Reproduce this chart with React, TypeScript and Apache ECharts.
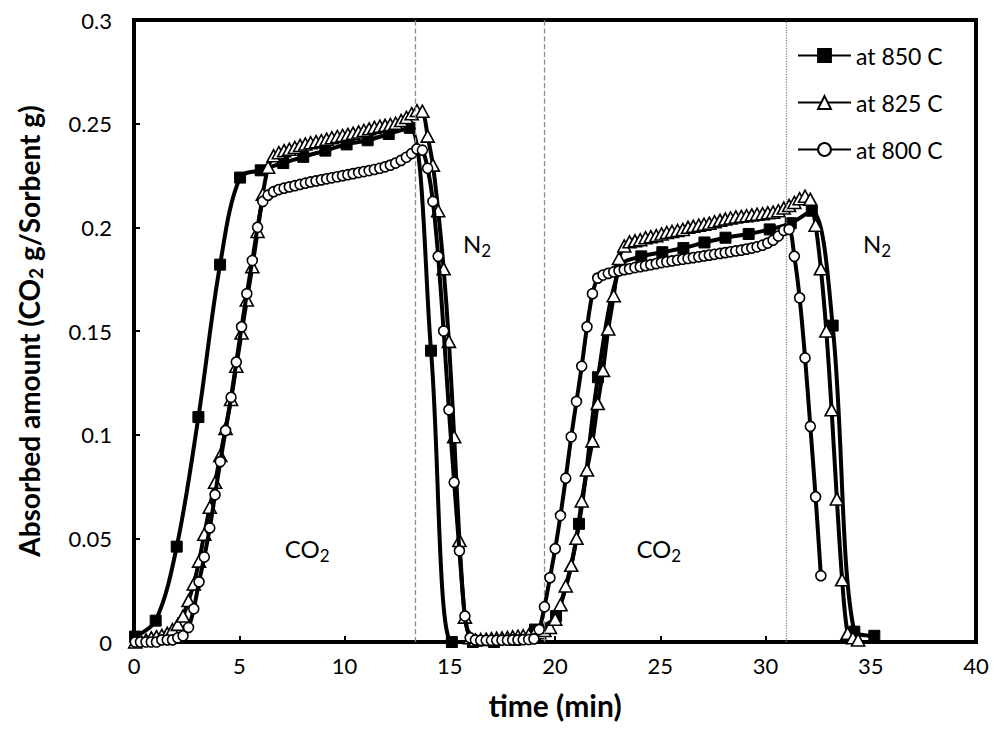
import React, { useEffect, useRef } from "react";
import * as echarts from "echarts";

// Shared sampling times (min) for the 825 C and 800 C runs
const times = [
  0.06, 0.31, 0.57, 0.82, 1.07, 1.32, 1.58, 1.83, 2.08, 2.33,
  2.59, 2.84, 3.09, 3.34, 3.6, 3.85, 4.1, 4.35, 4.61, 4.86,
  5.11, 5.36, 5.62, 5.87, 6.12, 6.37, 6.63, 6.88, 7.13, 7.38,
  7.64, 7.89, 8.14, 8.39, 8.65, 8.9, 9.15, 9.4, 9.66, 9.91,
  10.16, 10.41, 10.67, 10.92, 11.17, 11.42, 11.68, 11.93, 12.18, 12.43,
  12.69, 12.94, 13.19, 13.44, 13.7, 13.95, 14.2, 14.45, 14.71, 14.96,
  15.21, 15.46, 15.72, 15.97, 16.22, 16.47, 16.73, 16.98, 17.23, 17.48,
  17.74, 17.99, 18.24, 18.49, 18.75, 19.0, 19.25, 19.5, 19.76, 20.01,
  20.26, 20.51, 20.77, 21.02, 21.27, 21.52, 21.78, 22.03, 22.28, 22.53,
  22.79, 23.04, 23.29, 23.54, 23.8, 24.05, 24.3, 24.55, 24.81, 25.06,
  25.31, 25.56, 25.82, 26.07, 26.32, 26.57, 26.83, 27.08, 27.33, 27.58,
  27.84, 28.09, 28.34, 28.59, 28.85, 29.1, 29.35, 29.6, 29.86, 30.11,
  30.36, 30.61, 30.87, 31.12, 31.37, 31.62, 31.88, 32.13, 32.38, 32.63,
  32.89, 33.14, 33.39, 33.64, 33.9, 34.15, 34.4,
];

const at800 = [
  0.0, 0.0, 0.0, 0.0, 0.0, 0.001, 0.001, 0.001, 0.002, 0.003,
  0.007, 0.016, 0.029, 0.041, 0.055, 0.071, 0.087, 0.102, 0.118, 0.135,
  0.152, 0.168, 0.184, 0.2, 0.2125, 0.2155, 0.2172, 0.2182, 0.2189, 0.2195,
  0.2201, 0.2207, 0.2213, 0.2219, 0.2224, 0.2229, 0.2234, 0.2239, 0.2244, 0.2249,
  0.2254, 0.2259, 0.2264, 0.2269, 0.2274, 0.2279, 0.2285, 0.2292, 0.23, 0.231,
  0.2323, 0.2338, 0.2356, 0.2378, 0.2372, 0.2285, 0.2125, 0.186, 0.15, 0.112,
  0.077, 0.044, 0.0125, 0.002, 0.001, 0.0008, 0.0008, 0.0008, 0.0008, 0.0009,
  0.0009, 0.001, 0.001, 0.0011, 0.0012, 0.0015, 0.006, 0.017, 0.031, 0.045,
  0.061, 0.079, 0.099, 0.116, 0.133, 0.152, 0.168, 0.1755, 0.177, 0.1778,
  0.1785, 0.179, 0.1796, 0.18, 0.1806, 0.181, 0.1815, 0.182, 0.1825, 0.183,
  0.1834, 0.1838, 0.1842, 0.1846, 0.185, 0.1854, 0.1858, 0.1862, 0.1866, 0.187,
  0.1874, 0.1878, 0.1882, 0.1886, 0.189, 0.1895, 0.19, 0.1906, 0.1914, 0.1924,
  0.1938, 0.1958, 0.1985, 0.199, 0.186, 0.166, 0.137, 0.104, 0.07, 0.032,
];

const at825 = [
  0.0, 0.001, 0.001, 0.002, 0.0026, 0.0032, 0.0042, 0.006, 0.0085, 0.0125,
  0.02, 0.028, 0.039, 0.052, 0.065, 0.077, 0.09, 0.103, 0.117, 0.133,
  0.149, 0.165, 0.181, 0.198, 0.216, 0.229, 0.2345, 0.236, 0.237, 0.2377,
  0.2385, 0.2395, 0.2402, 0.2408, 0.2413, 0.2418, 0.2425, 0.2432, 0.2438, 0.2443,
  0.2448, 0.2454, 0.246, 0.2467, 0.2475, 0.2482, 0.2488, 0.2492, 0.2496, 0.2502,
  0.2515, 0.253, 0.2548, 0.2563, 0.256, 0.244, 0.23, 0.208, 0.18, 0.145,
  0.099, 0.049, 0.012, 0.002, 0.001, 0.0012, 0.0014, 0.0016, 0.0018, 0.002,
  0.0022, 0.0025, 0.0028, 0.003, 0.0034, 0.0038, 0.0045, 0.0055, 0.007, 0.011,
  0.018, 0.027, 0.037, 0.05, 0.068, 0.083, 0.097, 0.115, 0.131, 0.151,
  0.167, 0.185, 0.191, 0.193, 0.1935, 0.194, 0.195, 0.1955, 0.196, 0.1968,
  0.1975, 0.198, 0.1985, 0.199, 0.2, 0.2005, 0.201, 0.2015, 0.202, 0.2027,
  0.2034, 0.204, 0.2045, 0.205, 0.2053, 0.2056, 0.206, 0.2063, 0.2066, 0.207,
  0.2073, 0.208, 0.2093, 0.2105, 0.212, 0.2138, 0.215, 0.2135, 0.201, 0.18,
  0.15, 0.112, 0.069, 0.03, 0.0042, 0.002, 0.001,
];

// 850 C run was sampled about once per minute
const times850 = [
  0.05, 1.03, 2.03, 3.06, 4.09, 5.04, 6.02, 7.09, 8.04, 9.09,
  10.1, 11.1, 12.1, 13.1, 14.11, 15.1, 16.1, 17.1, 18.1, 19.05,
  20.05, 21.14, 22.04, 23.1, 24.1, 25.1, 26.1, 27.1, 28.1, 29.2,
  30.2, 31.2, 32.2, 33.19, 34.22, 35.17,
];
const at850 = [
  0.0026, 0.0103, 0.046, 0.1085, 0.182, 0.224, 0.2275, 0.231, 0.234, 0.237,
  0.24, 0.242, 0.245, 0.248, 0.1405, 0.0, 0.0, 0.0, 0.001, 0.006,
  0.0125, 0.057, 0.1277, 0.181, 0.186, 0.188, 0.19, 0.1927, 0.195, 0.1968,
  0.199, 0.202, 0.208, 0.1526, 0.005, 0.003,
];

const seriesNames = ["at 850 C", "at 825 C", "at 800 C"];
// Gas switching moments (min)
const phaseLines = [13.37, 19.5, 31.0];
// Gas labels: [text, subscript, time, amount]
const gasLabels: [string, string, number, number][] = [
  ["CO", "2", 8.23, 0.045],
  ["N", "2", 16.3, 0.192],
  ["CO", "2", 24.93, 0.045],
  ["N", "2", 35.3, 0.192],
];

const FONT = "Lato, 'Noto Sans', sans-serif";

export default function App() {
  const ref = useRef<HTMLDivElement>(null);
  useEffect(() => {
    if (!ref.current) return;
    const chart = echarts.init(ref.current, undefined, { renderer: "svg" });
    const d800 = at800.map((v, i) => [times[i], v]);
    const d825 = at825.map((v, i) => [times[i], v]);
    const d850 = at850.map((v, i) => [times850[i], v]);
    const axisCommon = {
      axisLine: { show: true, lineStyle: { color: "#000", width: 4 } },
      axisTick: { show: true, inside: true, length: 6, lineStyle: { color: "#000", width: 2 } },
      splitLine: { show: false },
    };
    chart.setOption({
      animation: false,
      backgroundColor: "#fff",
      grid: {
        left: 134,
        right: 19,
        top: 20,
        bottom: 101,
        show: true,
        borderColor: "#000",
        borderWidth: 4,
        containLabel: false,
      },
      legend: {
        orient: "vertical",
        left: 797,
        top: 44,
        padding: 0,
        itemWidth: 53,
        itemHeight: 16,
        itemGap: 24,
        textStyle: { fontFamily: FONT, fontSize: 23, color: "#000" },
        data: seriesNames,
      },
      xAxis: {
        type: "value",
        min: 0,
        max: 40,
        interval: 5,
        ...axisCommon,
        axisLabel: { fontFamily: FONT, fontSize: 22, color: "#000", margin: 12 },
        name: "time (min)",
        nameLocation: "middle",
        nameGap: 48,
        nameTextStyle: { fontFamily: FONT, fontSize: 30, fontWeight: "bold", color: "#000" },
      },
      yAxis: {
        type: "value",
        min: 0,
        max: 0.3,
        interval: 0.05,
        ...axisCommon,
        axisLabel: { fontFamily: FONT, fontSize: 22, color: "#000", margin: 22 },
        name: "{b|Absorbed amount (CO}{s|2}{b| g/Sorbent g)}",
        nameLocation: "middle",
        nameGap: 89,
        nameTextStyle: {
          rich: {
            b: { fontFamily: FONT, fontSize: 28, fontWeight: "bold", color: "#000", lineHeight: 32 },
            s: { fontFamily: FONT, fontSize: 19, fontWeight: "bold", color: "#000", lineHeight: 14, verticalAlign: "bottom" },
          },
        },
      },
      series: [
        {
          name: seriesNames[0],
          type: "line",
          data: d850,
          smooth: 0.35,
          symbol: "rect",
          symbolSize: 11,
          lineStyle: { color: "#000", width: 4 },
          itemStyle: { color: "#000", borderColor: "#000", borderWidth: 1 },
          markLine: {
            silent: true,
            symbol: ["none", "none"],
            label: { show: false },
            lineStyle: { color: "#8c8c8c", type: "dashed", width: 1.3 },
            data: phaseLines.map((x, i) =>
              i === 2 ? { xAxis: x, lineStyle: { type: "dotted", color: "#8c8c8c", width: 1.3 } } : { xAxis: x }
            ),
          },
          z: 3,
        },
        {
          name: seriesNames[1],
          type: "line",
          data: d825,
          smooth: 0.3,
          symbol: "triangle",
          symbolSize: [13, 12],
          lineStyle: { color: "#000", width: 4 },
          itemStyle: { color: "#fff", borderColor: "#000", borderWidth: 1.6 },
          z: 4,
        },
        {
          name: seriesNames[2],
          type: "line",
          data: d800,
          smooth: 0.3,
          symbol: "circle",
          symbolSize: 10,
          lineStyle: { color: "#000", width: 4 },
          itemStyle: { color: "#fff", borderColor: "#000", borderWidth: 1.6 },
          z: 5,
        },
      ],
    });
    const graphics = gasLabels.map(([main, sub, t, v]) => {
      const p = chart.convertToPixel({ gridIndex: 0 }, [t, v]);
      return {
        type: "text",
        x: p[0],
        y: p[1],
        z: 10,
        style: {
          text: `{m|${main}}{s|${sub}}`,
          align: "center",
          verticalAlign: "middle",
          rich: {
            m: { fontFamily: FONT, fontSize: 24, fill: "#000", lineHeight: 30 },
            s: { fontFamily: FONT, fontSize: 17, fill: "#000", lineHeight: 12, verticalAlign: "bottom" },
          },
        },
      };
    });
    chart.setOption({ graphic: graphics });
    return () => chart.dispose();
  }, []);
  return (
    <div
      ref={ref}
      style={{ position: "fixed", left: 0, top: 0, width: 995, height: 743, background: "#fff" }}
    />
  );
}
